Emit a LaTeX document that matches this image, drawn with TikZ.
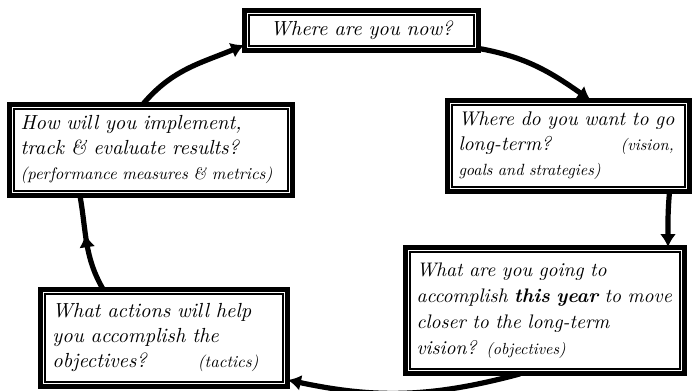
\documentclass[tikz,border=0pt]{standalone}
\usepackage{graphicx}
\usetikzlibrary{arrows.meta,decorations.markings}

\tikzset{
  goalbox/.style={inner xsep=6pt, inner ysep=0pt, align=left,
    font=\itshape\fontsize{10.2}{12.5}\selectfont},
  outerline/.style={line width=2.5pt},
  innerline/.style={line width=0.8pt},
  cycle/.style={line width=2.6pt, -{Latex[length=6.5pt,width=8pt]}},
  midcycle/.style={line width=2.6pt, decoration={markings,
      mark=at position 0.6 with {\arrow{Latex[length=6.5pt,width=8pt]}}},
    postaction={decorate}}
}
\newcommand{\aside}[1]{\scalebox{0.82}{#1}}

\begin{document}
\begin{tikzpicture}[x=0.5pt,y=-0.5pt]
  \useasboundingbox (0,0) rectangle (697,391);

  \node[goalbox, align=center, text width=105pt, minimum height=20pt] (now) at (361.5,30.5)
    {Where are you now?};
  \node[goalbox, inner xsep=5.5pt, text width=110pt, minimum height=45.5pt,
        font=\itshape\fontsize{9.9}{12.5}\selectfont] (longterm) at (568.5,146)
    {Where do you want to go\\ long-term? \qquad\quad \aside{(vision,}\\ \aside{goals and strategies)}};
  \node[goalbox, inner xsep=5.5pt, text width=128.5pt, minimum height=63pt,
        font=\itshape\fontsize{9.8}{13}\selectfont] (year) at (545,310.5)
    {What are you going to\\ accomplish \textbf{this year} to move\\ closer to the long-term\\ vision? \aside{(objectives)}};
  \node[goalbox, text width=111.5pt, minimum height=48.5pt] (tactics) at (164,338)
    {What actions will help\\ you accomplish the\\ objectives? \qquad \aside{(tactics)}};
  \node[goalbox, inner xsep=5.5pt, text width=130.5pt, minimum height=45.5pt] (track) at (151,150)
    {How will you implement,\\ track \& evaluate results?\\ \aside{(performance measures \& metrics)}};

  % double frames
  \foreach \b in {now,longterm,year,tactics,track}{
    \draw[outerline] (\b.north west) rectangle (\b.south east);
    \draw[innerline] ([shift={(5,5)}]\b.north west) rectangle ([shift={(-5,-5)}]\b.south east);
  }

  % the cycle
  \draw[cycle] ([shift={(-8,0)}]track.north) to[out=50,in=203] ([shift={(0,14.5)}]now.west);
  \draw[cycle] ([shift={(0,18)}]now.east) to[out=-10,in=145] ([shift={(22,0)}]longterm.north);
  \draw[cycle] ([shift={(101,0)}]longterm.south) to[out=-95,in=90] ([shift={(123,0)}]year.north);
  \draw[cycle] ([shift={(-25,0)}]year.south) to[out=195,in=-12] ([shift={(0,42)}]tactics.east);
  \draw[midcycle] ([shift={(-61,0)}]tactics.north) to[out=120,in=-80] ([shift={(-71,0)}]track.south);
\end{tikzpicture}
\end{document}
